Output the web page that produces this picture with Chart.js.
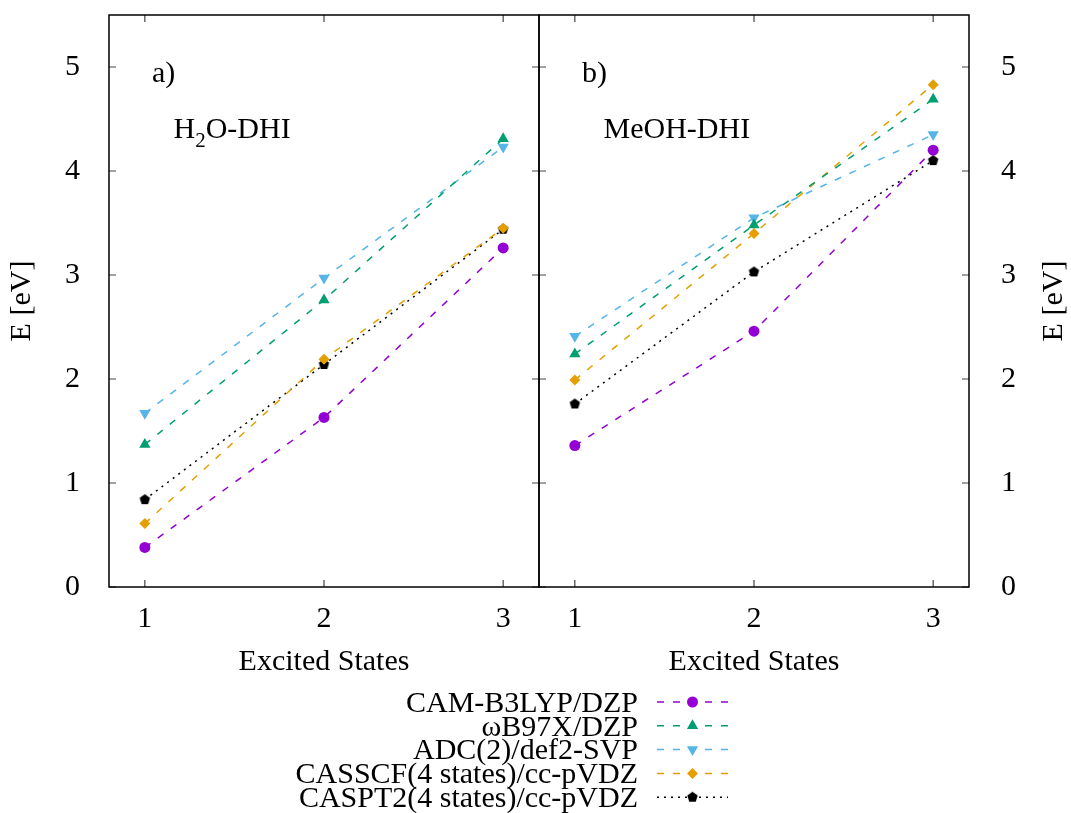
<!DOCTYPE html>
<html lang="en">
<head>
<meta charset="UTF-8">
<title>Excited states: H2O-DHI and MeOH-DHI</title>
<script src="https://cdn.jsdelivr.net/npm/chart.js"></script>
<style>
  body { margin: 0; background: #fff; }
  #wrap { position: relative; width: 1071px; height: 813px; }
  #wrap canvas { position: absolute; left: 0; top: 0; }
</style>
</head>
<body>
<div id="wrap">
  <canvas id="leftChart" width="1071" height="813"></canvas>
  <canvas id="rightChart" width="1071" height="813"></canvas>
</div>
<script>
// x positions and tick labels
const states = [1, 2, 3];
const xTicks = [1, 2, 3];
const yTicks = [0, 1, 2, 3, 4, 5];

const methods = [
  'CAM-B3LYP/DZP',
  '\u03c9B97X/DZP',
  'ADC(2)/def2-SVP',
  'CASSCF(4 states)/cc-pVDZ',
  'CASPT2(4 states)/cc-pVDZ'
];

// panel a) H2O-DHI
const h2oCam    = [0.38, 1.63, 3.26];
const h2oWb97x  = [1.37, 2.76, 4.31];
const h2oAdc2   = [1.67, 2.97, 4.23];
const h2oCasscf = [0.61, 2.19, 3.45];
const h2oCaspt2 = [0.84, 2.14, 3.44];

// panel b) MeOH-DHI
const meohCam    = [1.36, 2.46, 4.20];
const meohWb97x  = [2.24, 3.48, 4.69];
const meohAdc2   = [2.41, 3.55, 4.35];
const meohCasscf = [1.99, 3.40, 4.83];
const meohCaspt2 = [1.76, 3.03, 4.10];

const FONT = 'Liberation Serif, Times New Roman, serif';

// black pentagon marker (gnuplot pt 15 style)
function pentagon(r) {
  const c = document.createElement('canvas');
  c.width = c.height = Math.ceil(2 * r + 2);
  const g = c.getContext('2d');
  g.fillStyle = '#000';
  g.beginPath();
  for (let i = 0; i < 5; i++) {
    const a = -Math.PI / 2 + i * 2 * Math.PI / 5;
    const px = c.width / 2 + r * Math.cos(a), py = c.height / 2 + r * Math.sin(a);
    if (i) g.lineTo(px, py); else g.moveTo(px, py);
  }
  g.closePath();
  g.fill();
  return c;
}

const styles = [
  { color: '#9400d3', dash: [7, 9], point: 'circle',   radius: 5.5, rotation: 0 },
  { color: '#009e73', dash: [7, 9], point: 'triangle', radius: 6.5, rotation: 0 },
  { color: '#56b4e9', dash: [7, 9], point: 'triangle', radius: 6.5, rotation: 180 },
  { color: '#e69f00', dash: [7, 9], point: 'rectRot',  radius: 5.5, rotation: 0 },
  { color: '#000000', dash: [2, 5], point: pentagon(5.5), radius: 5.5, rotation: 0 }
];

function drawParts(ctx, parts, x, y) {
  // parts: [text, isSubscript]
  parts.forEach(([t, sub]) => {
    ctx.font = (sub ? 21 : 30) + 'px ' + FONT;
    ctx.fillText(t, x, sub ? y + 9 : y);
    x += ctx.measureText(t).width;
  });
}

const framePlugin = {
  id: 'frame',
  afterDraw(chart, args, opts) {
    const { ctx, chartArea: a } = chart;
    const x = chart.scales.x, y = chart.scales.y;
    ctx.save();
    // inward tick marks on all four sides
    ctx.strokeStyle = '#444';
    ctx.lineWidth = 1.2;
    ctx.beginPath();
    xTicks.forEach(v => {
      const px = x.getPixelForValue(v);
      ctx.moveTo(px, a.bottom); ctx.lineTo(px, a.bottom - 7);
      ctx.moveTo(px, a.top); ctx.lineTo(px, a.top + 7);
    });
    yTicks.forEach(v => {
      const py = y.getPixelForValue(v);
      ctx.moveTo(a.left, py); ctx.lineTo(a.left + 7, py);
      ctx.moveTo(a.right, py); ctx.lineTo(a.right - 7, py);
    });
    ctx.stroke();
    // border
    ctx.strokeStyle = '#000';
    ctx.lineWidth = 1.5;
    ctx.strokeRect(a.left, a.top, a.right - a.left, a.bottom - a.top);

    ctx.fillStyle = '#000';
    ctx.textBaseline = 'alphabetic';
    ctx.textAlign = 'left';
    // panel tag and system name
    ctx.font = '30px ' + FONT;
    ctx.fillText(opts.tag, x.getPixelForValue(1.04), y.getPixelForValue(4.86));
    drawParts(ctx, opts.name, x.getPixelForValue(1.16), y.getPixelForValue(4.32));

    // axis titles
    ctx.font = '30px ' + FONT;
    ctx.textAlign = 'center';
    ctx.textBaseline = 'middle';
    ctx.fillText('Excited States', (a.left + a.right) / 2, a.bottom + 75);
    ctx.save();
    const tx = opts.side === 'left' ? a.left - 87 : a.right + 85;
    ctx.translate(tx, (a.top + a.bottom) / 2);
    ctx.rotate(-Math.PI / 2);
    ctx.fillText('E [eV]', 0, 0);
    ctx.restore();

    if (opts.legend) {
      const textRight = 638, lineL = 657, lineR = 728, top = 702, step = 23.8;
      methods.forEach((m, i) => {
        const s = styles[i];
        const ly = top + i * step;
        ctx.font = '30px ' + FONT;
        ctx.textAlign = 'right';
        ctx.textBaseline = 'middle';
        ctx.fillStyle = '#000';
        ctx.fillText(m, textRight, ly + 2);
        ctx.strokeStyle = s.color;
        ctx.lineWidth = 1.5;
        ctx.setLineDash(s.dash);
        ctx.beginPath();
        ctx.moveTo(lineL, ly); ctx.lineTo(lineR, ly);
        ctx.stroke();
        ctx.setLineDash([]);
        ctx.fillStyle = s.color;
        Chart.helpers.drawPoint(ctx, {
          pointStyle: s.point, radius: s.radius, rotation: s.rotation, borderWidth: 0
        }, (lineL + lineR) / 2, ly);
      });
    }
    ctx.restore();
  }
};

function makeChart(id, side, series, tag, name, legend) {
  const isLeft = side === 'left';
  const tickFont = { family: FONT, size: 30 };
  return new Chart(document.getElementById(id), {
    type: 'line',
    data: {
      datasets: series.map((vals, i) => ({
        label: methods[i],
        data: states.map((s, k) => ({ x: s, y: vals[k] })),
        borderColor: styles[i].color,
        backgroundColor: styles[i].color,
        borderWidth: 1.5,
        borderDash: styles[i].dash,
        pointStyle: styles[i].point,
        pointRadius: styles[i].radius,
        pointRotation: styles[i].rotation,
        pointBorderWidth: 0,
        tension: 0,
        fill: false
      }))
    },
    options: {
      responsive: false,
      animation: false,
      devicePixelRatio: 1,
      layout: {
        padding: isLeft ? { left: 0, right: 532, top: 15, bottom: 166 }
                        : { left: 539, right: 0, top: 15, bottom: 166 }
      },
      plugins: {
        legend: { display: false },
        tooltip: { enabled: false },
        frame: { side, tag, name, legend }
      },
      scales: {
        x: {
          type: 'linear', min: 0.8, max: 3.2,
          grid: { display: false }, border: { display: false },
          afterBuildTicks: s => { s.ticks = xTicks.map(v => ({ value: v })); },
          afterFit: s => { s.height = 60; s.paddingLeft = 0; s.paddingRight = 0; },
          ticks: { font: tickFont, color: '#000', padding: 6, maxRotation: 0, autoSkip: false }
        },
        y: {
          type: 'linear', position: side, min: 0, max: 5.5,
          grid: { display: false }, border: { display: false },
          afterBuildTicks: s => { s.ticks = yTicks.map(v => ({ value: v })); },
          afterFit: s => { s.width = isLeft ? 109 : 102; s.paddingTop = 0; s.paddingBottom = 0; },
          ticks: { font: tickFont, color: '#000', padding: isLeft ? 21 : 24 }
        }
      }
    },
    plugins: [framePlugin]
  });
}

makeChart('leftChart', 'left',
  [h2oCam, h2oWb97x, h2oAdc2, h2oCasscf, h2oCaspt2],
  'a)', [['H', 0], ['2', 1], ['O-DHI', 0]], true);
makeChart('rightChart', 'right',
  [meohCam, meohWb97x, meohAdc2, meohCasscf, meohCaspt2],
  'b)', [['MeOH-DHI', 0]], false);
</script>
</body>
</html>
